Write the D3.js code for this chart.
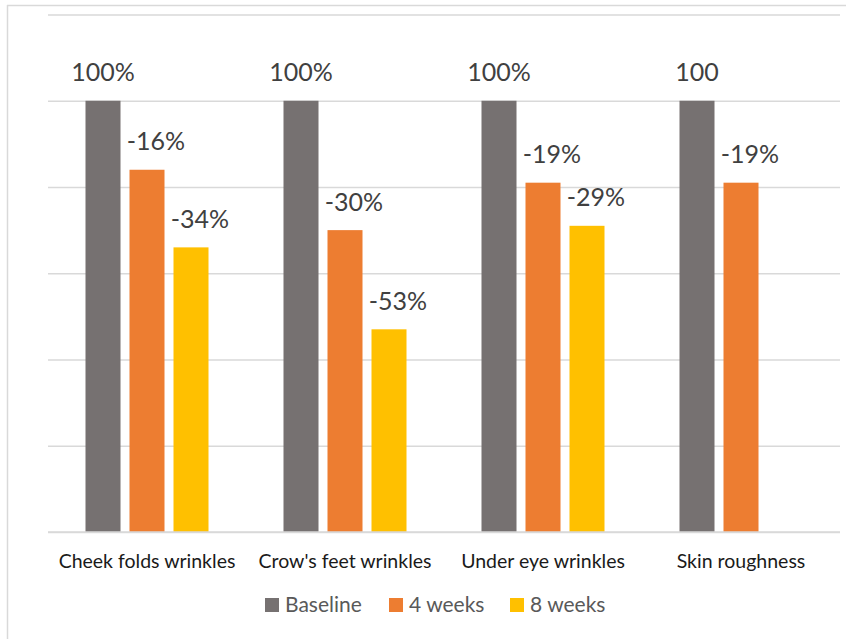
<!DOCTYPE html>
<html>
<head>
<meta charset="utf-8">
<script src="https://cdn.jsdelivr.net/npm/d3@7"></script>
<style>
  html, body { margin: 0; padding: 0; background: #fff; }
  svg { display: block; }
</style>
</head>
<body>
<svg id="chart" width="846" height="639"></svg>
<script>
const categories = ["Cheek folds wrinkles", "Crow's feet wrinkles", "Under eye wrinkles", "Skin roughness"];
const seriesNames = ["Baseline", "4 weeks", "8 weeks"];
const baselineValues = [100, 100, 100, 100];
const week4Values = [84, 70, 81, 81];
const week8Values = [66, 47, 71, null];
const baselineLabels = ["100%", "100%", "100%", "100"];
const week4Labels = ["-16%", "-30%", "-19%", "-19%"];
const week8Labels = ["-34%", "-53%", "-29%", ""];
const yTicks = [0, 20, 40, 60, 80, 100, 120];
const colors = ["#767171", "#ED7D31", "#FFC000"];

const seriesValues = [baselineValues, week4Values, week8Values];
const seriesLabels = [baselineLabels, week4Labels, week8Labels];

const svg = d3.select("#chart");
const W = 846, H = 639;
const plot = { left: 48, right: 840, top: 14.5, bottom: 532 };
const FONT = "Lato, 'Open Sans', sans-serif";

// chart frame (left & top edges visible)
svg.append("line").attr("x1", 7.5).attr("y1", 5).attr("x2", 7.5).attr("y2", H)
  .attr("stroke", "#d9d9d9").attr("stroke-width", 1.5);
svg.append("line").attr("x1", 7).attr("y1", 5.5).attr("x2", W).attr("y2", 5.5)
  .attr("stroke", "#d9d9d9").attr("stroke-width", 1.5);

const x0 = d3.scaleBand().domain(categories).range([plot.left, plot.right]).padding(0);
const x1 = d3.scaleBand().domain(seriesNames)
  .range([37.5, 160.5]).paddingInner(9 / 44).paddingOuter(0);
const y = d3.scaleLinear().domain([0, 120]).range([plot.bottom, plot.top]);

// gridlines
const grid = svg.append("g").attr("transform", `translate(${plot.left},0)`)
  .call(d3.axisLeft(y).tickValues(yTicks).tickSize(-(plot.right - plot.left)).tickFormat(""));
grid.select(".domain").remove();
grid.selectAll(".tick line").attr("stroke", "#d9d9d9").attr("stroke-width", 1.5);

// rows of data
const rows = [];
categories.forEach((c, i) => {
  seriesNames.forEach((s, j) => {
    rows.push({ cat: c, series: s, j, value: seriesValues[j][i], label: seriesLabels[j][i] });
  });
});

svg.append("g").selectAll("rect").data(rows.filter(d => d.value != null)).join("rect")
  .attr("x", d => x0(d.cat) + x1(d.series))
  .attr("y", d => y(d.value))
  .attr("width", x1.bandwidth())
  .attr("height", d => y(0) - y(d.value))
  .attr("fill", d => colors[d.j]);

// redraw baseline gridline over bars
svg.append("line").attr("x1", plot.left).attr("x2", plot.right)
  .attr("y1", y(0)).attr("y2", y(0)).attr("stroke", "#d9d9d9").attr("stroke-width", 1.5);

// data labels
svg.append("g").selectAll("text").data(rows.filter(d => d.value != null && d.label)).join("text")
  .attr("x", d => x0(d.cat) + x1(d.series) + x1.bandwidth() / 2 + (d.j === 0 ? 0 : 9))
  .attr("y", d => y(d.value) - 19.5)
  .attr("text-anchor", "middle")
  .attr("font-family", FONT)
  .attr("font-size", 25)
  .attr("fill", "#404040")
  .text(d => d.label);

// category axis
const xAxis = svg.append("g").attr("transform", `translate(0,${plot.bottom})`)
  .call(d3.axisBottom(x0).tickSize(0).tickPadding(0));
xAxis.select(".domain").remove();
xAxis.selectAll("text")
  .attr("dy", 0).attr("y", 36)
  .attr("font-family", FONT)
  .attr("font-size", 19.5)
  .attr("fill", "#1a1a1a");

// legend
const legendX = [265, 389, 510];
const legend = svg.append("g");
seriesNames.forEach((s, j) => {
  const g = legend.append("g").attr("transform", `translate(${legendX[j]},598)`);
  g.append("rect").attr("width", 14).attr("height", 14).attr("fill", colors[j]);
  g.append("text").attr("x", 20).attr("y", 14)
    .attr("font-family", FONT)
    .attr("font-size", 21)
    .attr("fill", "#595959")
    .text(s);
});
</script>
</body>
</html>
